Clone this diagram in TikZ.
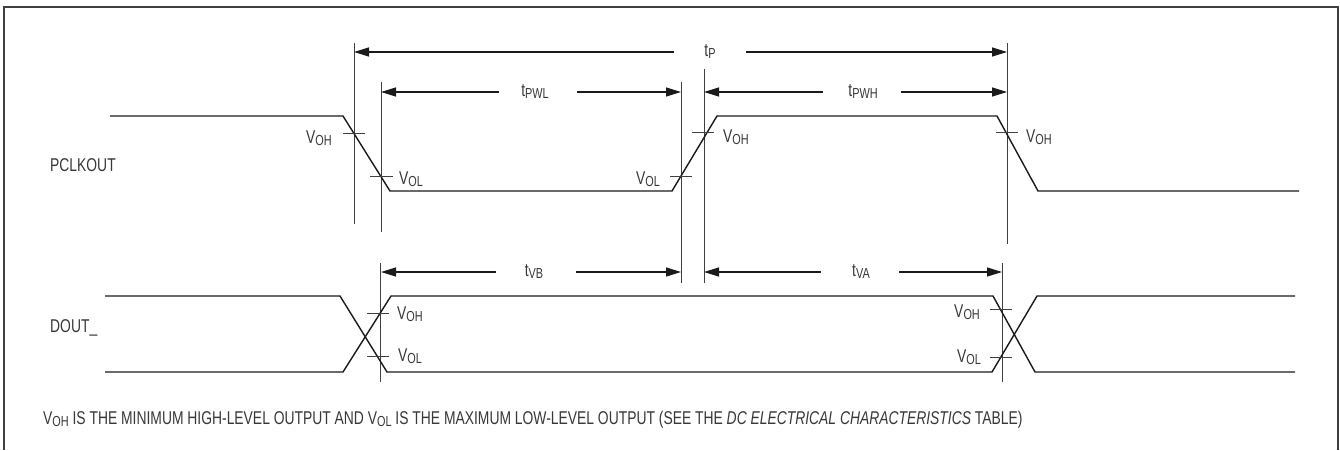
\documentclass[tikz,border=0pt]{standalone}
\usepackage{fontspec}
\setmainfont{Liberation Sans}[FakeStretch=0.75]
\usetikzlibrary{arrows.meta}
\definecolor{ink}{HTML}{1A1A1A}
\definecolor{grau}{HTML}{404040}
\definecolor{txt}{HTML}{383838}
\tikzset{
  wave/.style={ink,line width=1.4pt,line join=miter},
  ref/.style={grau,line width=0.9pt},
  tick/.style={grau,line width=0.9pt},
  dim/.style={-{Triangle[length=15pt,width=9pt]},ink,line width=1.3pt},
  lbl/.style={txt,inner sep=0pt,font=\fontsize{18.5}{18.5}\selectfont},
  rahmen/.style={grau,line width=2pt},
}
\newcommand{\lowsub}[1]{\raisebox{-2pt}{\fontsize{14.5}{14.5}\selectfont #1}}

\begin{document}
\begin{tikzpicture}[x=1pt,y=-1pt]
  \useasboundingbox (0,0) rectangle (1340,450);
  \draw[rahmen] (4,450)--(4,7)--(1338,7)--(1338,450);
  % reference lines
  \coordinate (e1) at (354,52);
  \coordinate (e2) at (381,92);
  \coordinate (e3) at (681,92);
  \coordinate (e4) at (704,92);
  \coordinate (e5) at (1007,52);
  \coordinate (e6) at (1002,272);
  \draw[ref] (354,43)--(354,224);
  \draw[ref] (381,82)--(381,232);
  \draw[ref] (380,263)--(380,382);
  \draw[ref] (681,82)--(681,283);
  \draw[ref] (704,69)--(704,283);
  \draw[ref] (1007,43)--(1007,244);
  \draw[ref] (1002,263)--(1002,382);
  % PCLKOUT
  \node[lbl,anchor=base west] (pclk) at (50,171) {PCLKOUT};
  \draw[wave] (110,116)--(343,116)--(390,191)--(672,191)--(717,116)--(997,116)--(1038,191)--(1299,191);
  \draw[tick] (343,133)--(365,133);
  \draw[tick] (370,176)--(393,176);
  \draw[tick] (670,176)--(692,176);
  \draw[tick] (692,132)--(714,132);
  \draw[tick] (996,132)--(1018,132);
  \node[lbl,anchor=base east] (voh1) at (332,143) {V\lowsub{OH}};
  \node[lbl,anchor=base west] (vol1) at (399,184) {V\lowsub{OL}};
  \node[lbl,anchor=base east] (vol2) at (660,184) {V\lowsub{OL}};
  \node[lbl,anchor=base west] (voh2) at (723,142) {V\lowsub{OH}};
  \node[lbl,anchor=base west] (voh3) at (1026,142) {V\lowsub{OH}};
  % DOUT_
  \node[lbl,anchor=base west] (dout) at (50,332) {DOUT\_};
  \draw[wave] (105,296)--(340,296)--(387,372)--(992,372)--(1037,296)--(1295,296);
  \draw[wave] (105,372)--(343,372)--(391,296)--(993,296)--(1035,372)--(1295,372);
  \draw[tick] (367,313)--(389,313);
  \draw[tick] (367,356)--(389,356);
  \draw[tick] (990,309)--(1012,309);
  \draw[tick] (990,357)--(1012,357);
  \node[lbl,anchor=base west] (voh4) at (397,319) {V\lowsub{OH}};
  \node[lbl,anchor=base west] (vol4) at (398,361) {V\lowsub{OL}};
  \node[lbl,anchor=base east] (voh5) at (980,317) {V\lowsub{OH}};
  \node[lbl,anchor=base east] (vol5) at (981,362) {V\lowsub{OL}};
  % timing arrows
  \node[lbl] (tp) at (710,52) {t\lowsub{P}};
  \draw[dim] ([xshift=-30pt]tp.west) -- (tp.west -| e1);
  \draw[dim] ([xshift=30pt]tp.east) -- (tp.east -| e5);
  \node[lbl] (tpwl) at (535,92) {t\lowsub{PWL}};
  \draw[dim] ([xshift=-22pt]tpwl.west) -- (tpwl.west -| e2);
  \draw[dim] ([xshift=28pt]tpwl.east) -- (tpwl.east -| e3);
  \node[lbl] (tpwh) at (863,92) {t\lowsub{PWH}};
  \draw[dim] ([xshift=-25pt]tpwh.west) -- (tpwh.west -| e4);
  \draw[dim] ([xshift=23pt]tpwh.east) -- (tpwh.east -| e5);
  \node[lbl] (tvb) at (534,272) {t\lowsub{VB}};
  \draw[dim] ([xshift=-29pt]tvb.west) -- (tvb.west -| e2);
  \draw[dim] ([xshift=33pt]tvb.east) -- (tvb.east -| e3);
  \node[lbl] (tva) at (861,272) {t\lowsub{VA}};
  \draw[dim] ([xshift=-31pt]tva.west) -- (tva.west -| e4);
  \draw[dim] ([xshift=29pt]tva.east) -- (tva.east -| e6);
  % note
  \node[lbl,anchor=base west] (note) at (43,424) {V\lowsub{OH} IS THE MINIMUM HIGH-LEVEL OUTPUT AND V\lowsub{OL} IS THE MAXIMUM LOW-LEVEL OUTPUT (SEE THE \textit{DC ELECTRICAL CHARACTERISTICS} TABLE)};
\end{tikzpicture}
\end{document}
